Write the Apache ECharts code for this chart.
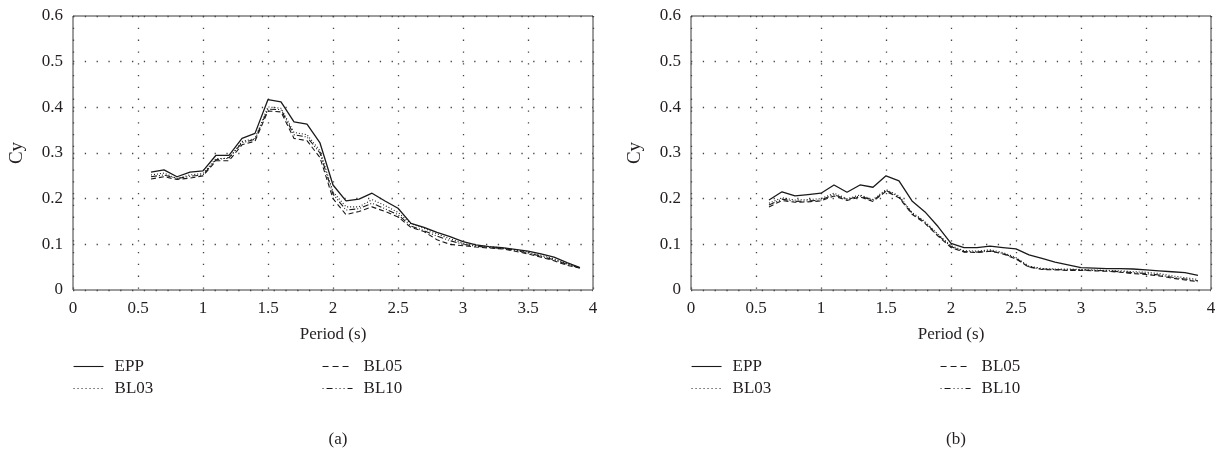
<!DOCTYPE html>
<html>
<head>
<meta charset="utf-8">
<script src="https://cdn.jsdelivr.net/npm/echarts@6/dist/echarts.min.js"></script>
<style>
html,body{margin:0;padding:0;background:#fff;}
#c{width:1219px;height:458px;}
</style>
</head>
<body>
<div id="c"></div>
<script>
const periods = [0.6,0.7,0.8,0.9,1.0,1.1,1.2,1.3,1.4,1.5,1.6,1.7,1.8,1.9,2.0,2.1,2.2,2.3,2.4,2.5,2.6,2.7,2.8,2.9,3.0,3.1,3.2,3.3,3.4,3.5,3.6,3.7,3.8,3.9];
const seriesNames = ['EPP','BL03','BL05','BL10'];
const xTicks = [0,0.5,1,1.5,2,2.5,3,3.5,4];
const yTicks = [0,0.1,0.2,0.3,0.4,0.5,0.6];
const panelLabels = ['(a)','(b)'];

// Panel (a)
const L_EPP  = [0.258,0.263,0.248,0.258,0.261,0.295,0.295,0.332,0.343,0.417,0.412,0.368,0.363,0.322,0.230,0.195,0.199,0.212,0.195,0.179,0.146,0.137,0.126,0.117,0.106,0.099,0.095,0.093,0.089,0.085,0.079,0.072,0.060,0.049];
const L_BL03 = [0.252,0.256,0.244,0.252,0.255,0.288,0.288,0.325,0.332,0.401,0.398,0.345,0.340,0.305,0.215,0.182,0.182,0.198,0.185,0.170,0.145,0.135,0.123,0.112,0.102,0.097,0.095,0.092,0.088,0.083,0.076,0.068,0.057,0.049];
const L_BL05 = [0.243,0.248,0.242,0.245,0.250,0.283,0.283,0.318,0.326,0.392,0.390,0.332,0.327,0.290,0.200,0.165,0.172,0.182,0.172,0.160,0.137,0.128,0.110,0.100,0.097,0.094,0.092,0.090,0.085,0.079,0.072,0.064,0.054,0.048];
const L_BL10 = [0.248,0.252,0.244,0.249,0.252,0.285,0.290,0.322,0.330,0.396,0.395,0.340,0.335,0.300,0.210,0.175,0.178,0.190,0.178,0.165,0.140,0.130,0.118,0.108,0.100,0.096,0.093,0.091,0.087,0.081,0.074,0.066,0.056,0.048];

// Panel (b)
const R_EPP  = [0.197,0.215,0.206,0.209,0.212,0.230,0.214,0.230,0.225,0.250,0.239,0.195,0.171,0.139,0.102,0.093,0.093,0.096,0.093,0.090,0.077,0.069,0.061,0.055,0.049,0.048,0.047,0.047,0.046,0.044,0.042,0.040,0.038,0.032];
const R_BL03 = [0.190,0.202,0.197,0.198,0.200,0.212,0.200,0.208,0.198,0.220,0.206,0.170,0.150,0.122,0.097,0.086,0.085,0.088,0.082,0.071,0.052,0.047,0.046,0.046,0.045,0.044,0.043,0.042,0.040,0.039,0.036,0.031,0.027,0.023];
const R_BL05 = [0.182,0.196,0.192,0.193,0.195,0.206,0.196,0.204,0.194,0.216,0.202,0.166,0.146,0.118,0.093,0.083,0.082,0.085,0.079,0.068,0.050,0.045,0.044,0.043,0.043,0.042,0.041,0.039,0.036,0.034,0.031,0.026,0.022,0.018];
const R_BL10 = [0.186,0.199,0.194,0.195,0.197,0.209,0.198,0.206,0.196,0.218,0.204,0.168,0.148,0.120,0.095,0.084,0.083,0.086,0.080,0.069,0.051,0.046,0.045,0.044,0.044,0.043,0.042,0.040,0.038,0.036,0.033,0.028,0.024,0.020];

const FONT = '"Liberation Serif","DejaVu Serif",serif';
const INK = '#231f20';
const lineTypes = {
  EPP: 'solid',
  BL03: [1, 2],
  BL05: [5, 3],
  BL10: [6, 2, 1, 2, 1, 2]
};
const legendTypes = {
  EPP: 'solid',
  BL03: [1, 3],
  BL05: [6, 4],
  BL10: [1, 3, 6, 3, 1, 3, 1, 3]
};
const panels = [
  {EPP: L_EPP, BL03: L_BL03, BL05: L_BL05, BL10: L_BL10},
  {EPP: R_EPP, BL03: R_BL03, BL05: R_BL05, BL10: R_BL10}
];
const gridLefts = [73, 691];

const chart = echarts.init(document.getElementById('c'), null, {renderer: 'canvas'});

const grids = [], xAxes = [], yAxes = [], series = [], legends = [], titles = [];
gridLefts.forEach((gl, i) => {
  grids.push({left: gl, top: 16, width: 520, height: 274, show: true, borderColor: '#3a3a3a', borderWidth: 1, backgroundColor: 'transparent'});
  xAxes.push({
    type: 'value', gridIndex: i, min: xTicks[0], max: xTicks[xTicks.length-1], interval: 0.5,
    name: 'Period (s)', nameLocation: 'middle', nameGap: 36,
    nameTextStyle: {fontFamily: FONT, fontSize: 17, color: INK},
    axisLine: {show: false}, axisTick: {show: false},
    axisLabel: {fontFamily: FONT, fontSize: 17, color: INK, margin: 10},
    splitLine: {show: true, lineStyle: {color: '#444', width: 1.3, type: [1.3, 10.5]}}
  });
  yAxes.push({
    type: 'value', gridIndex: i, min: yTicks[0], max: yTicks[yTicks.length-1], interval: 0.1,
    name: 'Cy', nameLocation: 'middle', nameGap: 46,
    nameTextStyle: {fontFamily: FONT, fontSize: 19, color: INK},
    axisLine: {show: false}, axisTick: {show: false},
    axisLabel: {fontFamily: FONT, fontSize: 17, color: INK, margin: 10, formatter: v => String(+v.toFixed(1))},
    splitLine: {show: true, lineStyle: {color: '#444', width: 1.3, type: [1.3, 10.5]}}
  });
  seriesNames.forEach(nm => {
    series.push({
      name: nm, type: 'line', xAxisIndex: i, yAxisIndex: i,
      data: periods.map((p, k) => [p, panels[i][nm][k]]),
      symbol: 'none', smooth: false, animation: false,
      lineStyle: {color: '#1a1a1a', width: nm === 'EPP' ? 1.3 : 1.1, type: lineTypes[nm]},
      itemStyle: {color: '#1a1a1a'}
    });
  });
  const common = {
    show: true, orient: 'vertical', itemWidth: 30, itemHeight: 12, itemGap: 5,
    textStyle: {fontFamily: FONT, fontSize: 17, color: INK, padding: [0, 0, 0, 6]},
    itemStyle: {color: 'rgba(0,0,0,0)', borderWidth: 0, opacity: 0},
    selectedMode: false, top: 353
  };
  const mk = nm => ({name: nm, lineStyle: {type: legendTypes[nm], width: 1.1, color: '#1a1a1a'}});
  legends.push(Object.assign({}, common, {left: gl - 5, data: ['EPP', 'BL03'].map(mk)}));
  legends.push(Object.assign({}, common, {left: gl + 244, data: ['BL05', 'BL10'].map(mk)}));
  titles.push({text: panelLabels[i], left: gl + 260, top: 426, textAlign: 'center',
    textStyle: {fontFamily: FONT, fontSize: 17, fontWeight: 'normal', color: INK}});
});

chart.setOption({
  animation: false,
  backgroundColor: '#fff',
  title: titles,
  grid: grids,
  xAxis: xAxes,
  yAxis: yAxes,
  legend: legends,
  series: series
});
</script>
</body>
</html>
